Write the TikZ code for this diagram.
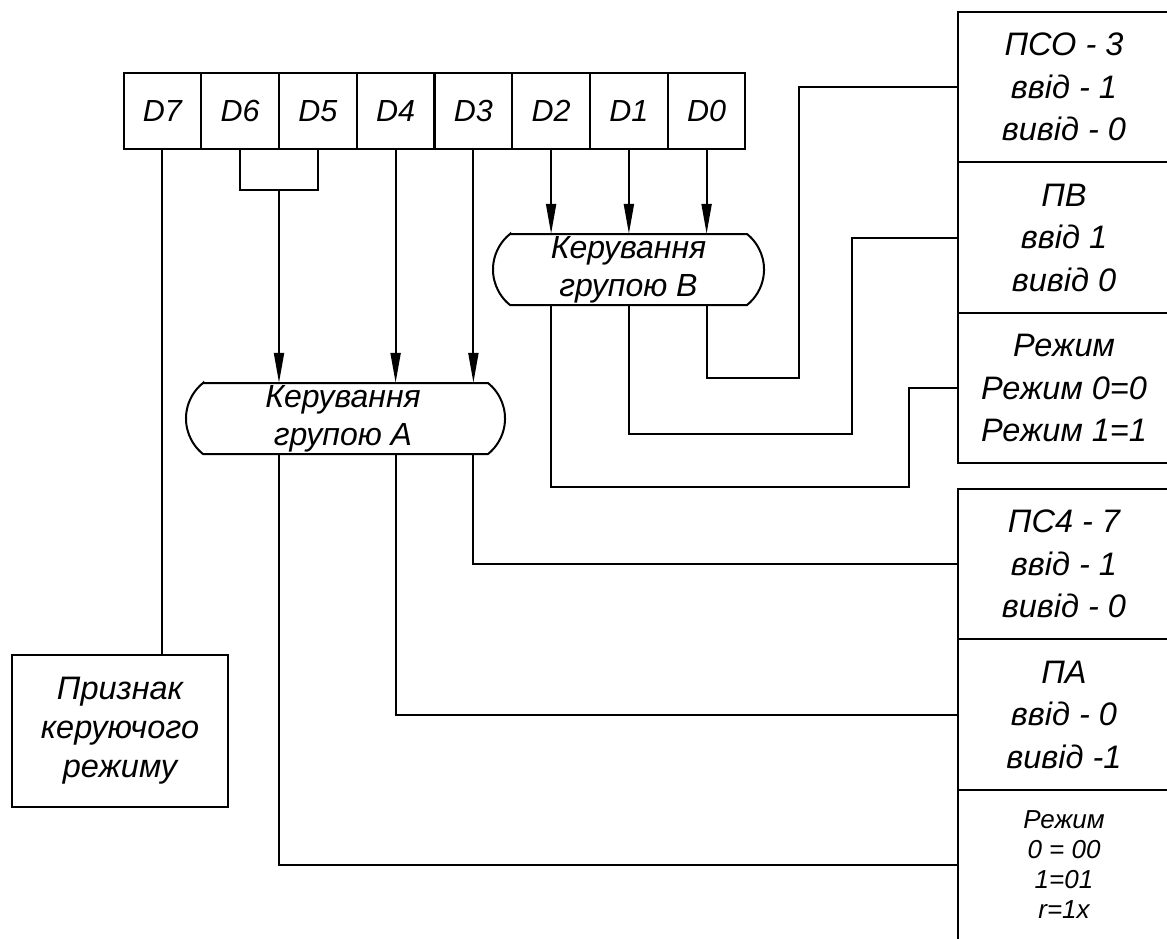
\documentclass[tikz,border=0pt]{standalone}
\usepackage{fontspec}
\setmainfont{Liberation Sans}
\usetikzlibrary{arrows.meta}
\tikzset{
  ln/.style={line width=2pt},
  arr/.style={line width=2pt, -{Triangle[length=30pt,width=10pt]}},
  cell/.style={draw, line width=2pt, minimum width=77.75pt, minimum height=76pt, inner sep=0pt,
    font=\fontsize{30.5}{36}\selectfont\itshape},
  rbox/.style={draw, line width=2pt, minimum width=212pt, inner sep=0pt, align=center,
    font=\fontsize{32.5}{42.5}\selectfont\itshape},
  sbox/.style={draw, line width=2pt, minimum width=212pt, inner sep=0pt, align=center,
    font=\fontsize{26}{30}\selectfont\itshape},
  grp/.style={inner sep=0pt, minimum height=71pt, align=center,
    font=\fontsize{32}{38}\selectfont\itshape},
}
\begin{document}
\begin{tikzpicture}[x=1pt,y=-1pt]
\useasboundingbox (0,0) rectangle (1167,938);
\fill[white] (0,0) rectangle (1167,938);

% register cells
\node[cell] (d7) at (162.4,111) {D7};
\node[cell] (d6) at (240.1,111) {D6};
\node[cell] (d5) at (317.9,111) {D5};
\node[cell] (d4) at (395.6,111) {D4};
\node[cell] (d3) at (473.4,111) {D3};
\node[cell] (d2) at (551.1,111) {D2};
\node[cell] (d1) at (628.9,111) {D1};
\node[cell] (d0) at (706.6,111) {D0};

% control groups
\node[grp, minimum width=237pt] (grpB) at (628.5,269.5) {Керування\\групою В};
\draw[ln] (510,234) -- (747,234) arc[start angle=-51.2, end angle=51.2, radius=45.57]
  -- (510,305) arc[start angle=128.8, end angle=231.2, radius=45.57] -- cycle;

\node[grp, minimum width=285pt] (grpA) at (343,418.5) {Керування\\групою А};
\draw[ln] (203,383) -- (488,383) arc[start angle=-51.2, end angle=51.2, radius=45.57]
  -- (203,454) arc[start angle=128.8, end angle=231.2, radius=45.57] -- cycle;

% right boxes
\node[rbox, minimum height=150pt] (pso) at (1064,87) {ПСО - 3\\ввід - 1\\вивід - 0};
\node[rbox, minimum height=151pt] (pv) at (1064,237.5) {ПВ\\ввід 1\\вивід 0};
\node[rbox, minimum height=150pt] (rezhB) at (1064,388) {Режим\\Режим 0=0\\Режим 1=1};
\node[rbox, minimum height=150pt] (ps47) at (1064,564) {ПС4 - 7\\ввід - 1\\вивід - 0};
\node[rbox, minimum height=151pt] (pa) at (1064,714.5) {ПА\\ввід - 0\\вивід -1};
\node[sbox, minimum height=150pt] (rezhA) at (1064,865) {Режим\\0 = 00\\1=01\\r=1x};

% left box
\node[draw, line width=2pt, minimum width=216pt, minimum height=152pt, inner sep=0pt, align=center,
  font=\fontsize{32.5}{39}\selectfont\itshape] (prz) at (120,731) {Признак\\керуючого\\режиму};

% coordinates for turns
\coordinate (brk) at (279,190);
\coordinate (b0) at (799,378);
\coordinate (b1) at (852,434);
\coordinate (b2) at (909,487);

% arrows into group B
\draw[arr] (d2.south) -- (d2.south |- grpB.north);
\draw[arr] (d1.south) -- (d1.south |- grpB.north);
\draw[arr] (d0.south) -- (d0.south |- grpB.north);

% arrows into group A
\draw[ln] (d6.south) |- (brk) -| (d5.south);
\draw[arr] (brk) -- (brk |- grpA.north);
\draw[arr] (d4.south) -- (d4.south |- grpA.north);
\draw[arr] (d3.south) -- (d3.south |- grpA.north);

% outputs of group B
\draw[ln] (d0.south |- grpB.south) |- (b0) |- (pso.west);
\draw[ln] (d1.south |- grpB.south) |- (b1) |- (pv.west);
\draw[ln] (d2.south |- grpB.south) |- (b2) |- (rezhB.west);

% outputs of group A
\draw[ln] (d3.south |- grpA.south) |- (ps47.west);
\draw[ln] (d4.south |- grpA.south) |- (pa.west);
\draw[ln] (brk |- grpA.south) |- (rezhA.west);

% D7
\draw[ln] (d7.south) -- (d7.south |- prz.north);
\end{tikzpicture}
\end{document}
